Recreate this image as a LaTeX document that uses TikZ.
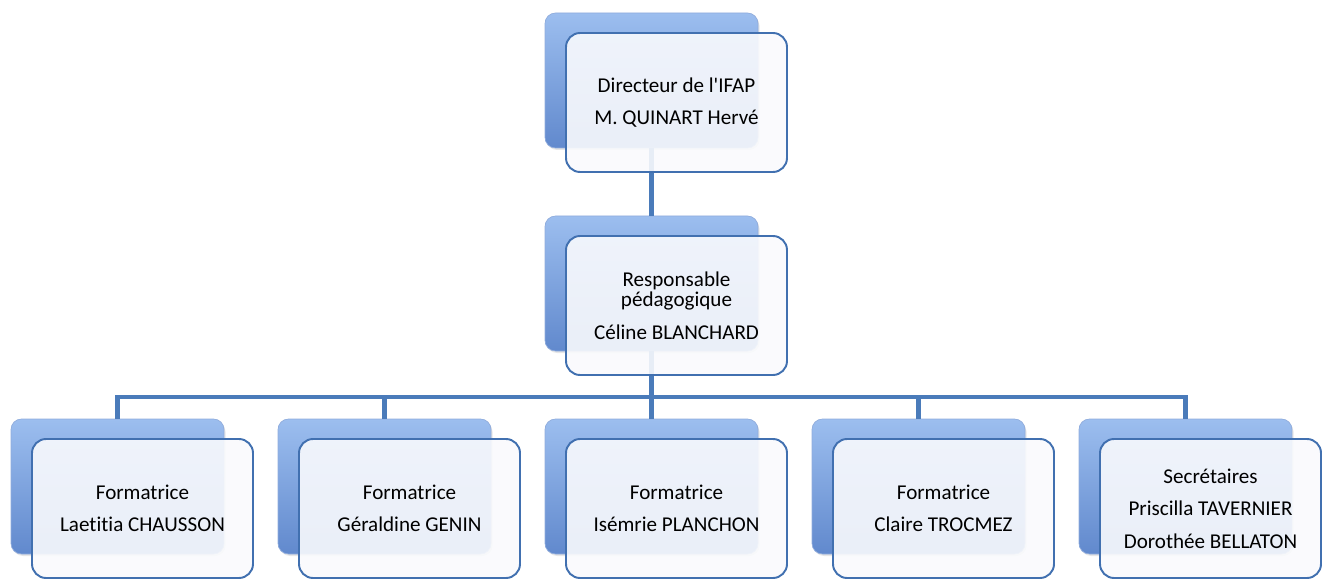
\documentclass[tikz,border=0pt]{standalone}
\usepackage{fontspec}
\setmainfont{Carlito}[Ligatures=NoCommon]
\usetikzlibrary{calc}
\usetikzlibrary{positioning}
\usetikzlibrary{shadows}

\definecolor{linkblue}{HTML}{4A7BBA}
\definecolor{edgeblue}{HTML}{4170B0}
\definecolor{backtop}{HTML}{9CBEEF}
\definecolor{backbot}{HTML}{6189CD}
\definecolor{frontfill}{HTML}{F9FAFD}

\tikzset{
  backbox/.style={rectangle, rounded corners=6pt, minimum width=4.26cm, minimum height=2.7cm,
    top color=backtop, bottom color=backbot, draw=backbot!70, line width=0.4pt,
    drop shadow={opacity=0.2, shadow xshift=0.03cm, shadow yshift=-0.04cm}},
  frontbox/.style={rectangle, rounded corners=8pt, minimum width=4.42cm, minimum height=2.78cm,
    draw=edgeblue, line width=1.1pt, fill=frontfill, fill opacity=0.9, text opacity=1,
    align=center, font=\fontsize{12}{18.5}\selectfont, xshift=0.5cm, yshift=-0.44cm},
  link/.style={draw=linkblue, line width=2.6pt}
}

\begin{document}
\begin{tikzpicture}
  \useasboundingbox (0,0) rectangle (26.5,-11.58);

  % back plates
  \node [backbox] (dirback) at (13.03,-1.61) {};
  \node [backbox] (respback) at (13.03,-5.67) {};
  \foreach \i in {1,...,5} \node [backbox] (fback\i) at ({2.35+(\i-1)*5.34},-9.73) {};

  % connectors
  \coordinate (bus) at (13.03,-7.94);
  \draw [link] (dirback.south) -- (respback.north);
  \draw [link] (respback.south) -- (bus);
  \foreach \i in {1,...,5} \draw [link] (bus) -| (fback\i.north);

  % front boxes
  \node [frontbox] (dir) at (dirback) {Directeur de l\textquotesingle IFAP\\M. QUINART Hervé};
  \node [frontbox] (resp) at (respback) {Responsable\\[-7pt]pédagogique\\Céline BLANCHARD};
  \foreach \i/\txt in {1/{Formatrice\\Laetitia CHAUSSON},
                       2/{Formatrice\\Géraldine GENIN},
                       3/{Formatrice\\Isémrie PLANCHON},
                       4/{Formatrice\\Claire TROCMEZ},
                       5/{Secrétaires\\Priscilla TAVERNIER\\Dorothée BELLATON}}
    \node [frontbox] (f\i) at (fback\i) {\txt};

\end{tikzpicture}
\end{document}
